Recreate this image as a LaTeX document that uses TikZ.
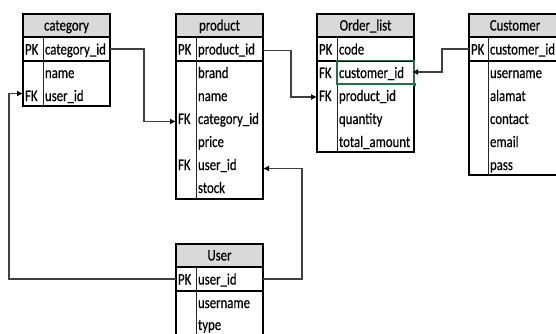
\documentclass[tikz,border=0pt]{standalone}
\usepackage{fontspec}
\setmainfont{Carlito}[FakeStretch=0.8,FakeBold=0.4]
\usetikzlibrary{arrows.meta,calc}
\definecolor{hdrgray}{HTML}{D9D9D9}
\definecolor{connc}{HTML}{404040}
\definecolor{selgreen}{HTML}{217346}
\newcommand\tabfont{\fontsize{16}{18}\selectfont}
% name, L, D, R, top, bottom, title
\newcommand\ertab[7]{%
  \node[frame, minimum width={#4-#2}, minimum height={#6-#5}] (#1) at (#2,#5) {};
  \node[hdr, minimum width={#4-#2}] (#1-h) at (#2,#5) {#7};
  \draw[sepline] (#2,#5+47) -- (#4,#5+47);
  \draw[divline] (#3,#5+23) -- (#3,#6);
}
\begin{document}
\begin{tikzpicture}[x=1pt,y=-1pt,
  frame/.style={draw=black, fill=white, line width=1.3pt, outer sep=0pt, inner sep=0pt, anchor=north west},
  hdr/.style={draw=black, fill=hdrgray, line width=1.3pt, outer sep=0pt, inner sep=0pt, anchor=north west,
              minimum height=23pt, text height=12pt, text depth=2pt, font=\tabfont},
  sepline/.style={draw=black, line width=1.3pt},
  divline/.style={draw=black!85, line width=0.9pt},
  fld/.style={anchor=west, inner sep=0pt, outer sep=0pt, text height=13pt, text depth=2pt, font=\tabfont},
  conn/.style={draw=connc, line width=1.3pt, -{Latex[length=6pt,width=6pt,color=black]}}
]
\useasboundingbox (0,0) rectangle (556,333);
\clip (0,0) rectangle (556,333);

% ---------- category ----------
\ertab{cat}{23}{43}{110}{14}{106}{category}
\node[fld] (cat-pk)   at (25,49)   {PK};
\node[fld] (cat-cid)  at (45,49)   {category\_id};
\node[fld] (cat-name) at (45,72.5) {name};
\node[fld] (cat-fk)   at (25,95.5) {FK};
\node[fld] (cat-uid)  at (45,95.5) {user\_id};

% ---------- product ----------
\ertab{prod}{176}{196}{263}{14}{199}{product}
\node[fld] (prod-pk)    at (178,49)    {PK};
\node[fld] (prod-pid)   at (198,49)    {product\_id};
\node[fld] (prod-brand) at (198,72.5)  {brand};
\node[fld] (prod-name)  at (198,95.5)  {name};
\node[fld] (prod-fk1)   at (178,118.5) {FK};
\node[fld] (prod-catid) at (198,118.5) {category\_id};
\node[fld] (prod-price) at (198,141.5) {price};
\node[fld] (prod-fk2)   at (178,164.5) {FK};
\node[fld] (prod-uid)   at (198,164.5) {user\_id};
\node[fld] (prod-stock) at (198,187.5) {stock};

% ---------- Order_list ----------
\ertab{ord}{317}{337}{414}{14}{152}{Order\_list}
\node[fld] (ord-pk)   at (319,49)    {PK};
\node[fld] (ord-code) at (339,49)    {code};
\node[fld] (ord-fk1)  at (319,72.5)  {FK};
\node[fld] (ord-cid)  at (339,72.5)  {customer\_id};
\node[fld] (ord-fk2)  at (319,95.5)  {FK};
\node[fld] (ord-pid)  at (339,95.5)  {product\_id};
\node[fld] (ord-qty)  at (339,118.5) {quantity};
\node[fld] (ord-tot)  at (339,141.5) {total\_amount};
% selected cell
\draw[selgreen, line width=1.5pt] (337,60.5) rectangle (414,84);
\fill[selgreen] (412.5,82.5) rectangle (416,86);

% ---------- Customer ----------
\ertab{cust}{469}{488}{561}{14}{175}{Customer}
\node[fld] (cust-pk)    at (471,49)    {PK};
\node[fld] (cust-cid)   at (490,49)    {customer\_id};
\node[fld] (cust-user)  at (490,72.5)  {username};
\node[fld] (cust-alm)   at (490,95.5)  {alamat};
\node[fld] (cust-con)   at (490,118.5) {contact};
\node[fld] (cust-mail)  at (490,141.5) {email};
\node[fld] (cust-pass)  at (490,164.5) {pass};

% ---------- User ----------
\ertab{usr}{176}{196}{263}{244}{360}{User}
\node[fld] (usr-pk)   at (178,279)   {PK};
\node[fld] (usr-uid)  at (198,279)   {user\_id};
\node[fld] (usr-name) at (198,302.5) {username};
\node[fld] (usr-type) at (198,324.5) {type};

% ---------- connectors ----------
\draw[conn] (cat.east |- cat-cid) -- ++(34,0) |- ($(prod.west |- prod-catid)+(0,3)$);
\draw[conn] ($(prod.east |- prod-pid)+(0,1.5)$) -- ++(28,0) |- ($(ord.west |- ord-pid)+(0,1.5)$);
\draw[conn, shorten >=-2pt] (cust.west |- cust-cid) -- ++(-27,0) |- ($(ord.east |- ord-cid)+(0,-0.5)$);
\draw[conn] (usr.east |- usr-uid) -- ++(39,0) |- ($(prod.east |- prod-uid)+(0,4)$);
\draw[conn] (usr.west |- usr-uid) -- ++(-167,0) |- ($(cat.west |- cat-uid)+(0,-2)$);
\end{tikzpicture}
\end{document}
